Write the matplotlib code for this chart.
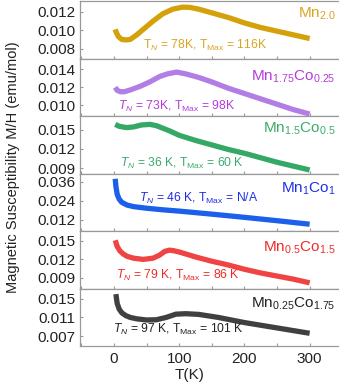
import numpy as np
import matplotlib.pyplot as plt
from matplotlib.ticker import MultipleLocator

plt.rcParams['font.family'] = ['Liberation Sans', 'DejaVu Sans']
plt.rcParams['mathtext.fontset'] = 'custom'
plt.rcParams['mathtext.rm'] = 'Liberation Sans'
plt.rcParams['mathtext.it'] = 'Liberation Sans:italic'

# --- данные ---
t_mn20 = [2, 4, 7, 12, 19, 25, 35, 45, 60, 75, 90, 105, 116, 130, 150, 175, 200, 225, 250, 275, 300]
chi_mn20 = [0.0101, 0.0097, 0.0093, 0.0090, 0.00895, 0.0090, 0.0095, 0.0101, 0.0110, 0.0118,
            0.0123, 0.01252, 0.0125, 0.0123, 0.0119, 0.0114, 0.0108, 0.0103, 0.0099, 0.0095, 0.0091]

t_mn175 = [2, 5, 10, 16, 25, 40, 55, 70, 82, 96, 110, 130, 150, 175, 200, 225, 250, 275, 300]
chi_mn175 = [0.0120, 0.01165, 0.0115, 0.0115, 0.0117, 0.0121, 0.0126, 0.0132, 0.0135, 0.0137,
             0.0135, 0.0131, 0.0126, 0.0119, 0.0113, 0.0107, 0.0101, 0.0095, 0.0090]

t_mn15 = [2, 8, 19, 30, 42, 55, 65, 75, 85, 100, 125, 150, 175, 200, 225, 250, 275, 300]
chi_mn15 = [0.0158, 0.0155, 0.0153, 0.0154, 0.0157, 0.0158, 0.0156, 0.0152, 0.0148, 0.0141,
            0.0133, 0.0126, 0.0119, 0.0113, 0.0106, 0.0099, 0.0093, 0.0087]

t_mn1 = [2, 3, 5, 8, 12, 20, 30, 50, 75, 100, 150, 200, 250, 300]
chi_mn1 = [0.0377, 0.0330, 0.0280, 0.0250, 0.0230, 0.0213, 0.0203, 0.0193, 0.0183, 0.0175,
           0.0156, 0.0136, 0.0115, 0.0093]

t_mn05 = [2, 5, 9, 14, 20, 30, 45, 60, 70, 78, 85, 92, 100, 125, 150, 175, 200, 225, 250, 275, 300]
chi_mn05 = [0.0151, 0.0141, 0.0134, 0.0129, 0.0125, 0.0122, 0.0120, 0.0122, 0.0127, 0.0133,
            0.0135, 0.0134, 0.0132, 0.0124, 0.0117, 0.0111, 0.0104, 0.0098, 0.0093, 0.0088, 0.0082]

t_mn025 = [3, 5, 8, 12, 18, 25, 35, 50, 65, 80, 95, 110, 130, 160, 200, 250, 300]
chi_mn025 = [0.0160, 0.0140, 0.0128, 0.0120, 0.0114, 0.0110, 0.0107, 0.01045, 0.0105, 0.0110,
             0.0117, 0.0118, 0.01165, 0.0110, 0.0099, 0.00875, 0.0076]

samples = [
    (t_mn20, chi_mn20, r'Mn$_{2.0}$', '#d4a10a', '#d8a520',
     r'T$_N$ = 78K, T$_{\mathrm{Max}}$ = 116K', (0.243, 0.22)),
    (t_mn175, chi_mn175, r'Mn$_{1.75}$Co$_{0.25}$', '#b27ee6', '#b43cd8',
     r'$\mathit{T}_N$ = 73K, T$_{\mathrm{Max}}$ = 98K', (0.147, 0.17)),
    (t_mn15, chi_mn15, r'Mn$_{1.5}$Co$_{0.5}$', '#35a866', '#3aab6a',
     r'$\mathit{T}_N$ = 36 K, T$_{\mathrm{Max}}$ = 60 K', (0.154, 0.17)),
    (t_mn1, chi_mn1, r'Mn$_1$Co$_1$', '#1c5fe8', '#1d2fe6',
     r'$\mathit{T}_N$ = 46 K, T$_{\mathrm{Max}}$ = N/A', (0.228, 0.56)),
    (t_mn05, chi_mn05, r'Mn$_{0.5}$Co$_{1.5}$', '#f04444', '#f02a2a',
     r'$\mathit{T}_N$ = 79 K, T$_{\mathrm{Max}}$ = 86 K', (0.139, 0.22)),
    (t_mn025, chi_mn025, r'Mn$_{0.25}$Co$_{1.75}$', '#404040', '#222222',
     r'$\mathit{T}_N$ = 97 K, T$_{\mathrm{Max}}$ = 101 K', (0.127, 0.28)),
]

ylims = [(0.00692, 0.01319), (0.00878, 0.01522), (0.00815, 0.0171),
         (0.00505, 0.041), (0.00728, 0.0166), (0.00487, 0.0172)]
yticks = [[0.008, 0.010, 0.012], [0.010, 0.012, 0.014], [0.009, 0.012, 0.015],
          [0.012, 0.024, 0.036], [0.009, 0.012, 0.015], [0.007, 0.011, 0.015]]

fig = plt.figure(figsize=(3.39, 3.89), dpi=100)
gs = fig.add_gridspec(6, 1, left=0.236, right=1.0, top=0.9974, bottom=0.1105, hspace=0)

spine_col = '#999999'
for i, (t, chi, name, lc, tc, note, pos) in enumerate(samples):
    ax = fig.add_subplot(gs[i])
    ax.plot(t, chi, color=lc, lw=3.8, solid_capstyle='butt', solid_joinstyle='round')
    ax.set_xlim(-52, 345)
    ax.set_ylim(*ylims[i])
    ax.set_yticks(yticks[i])
    ax.set_yticklabels(['%.3f' % v for v in yticks[i]])
    ax.xaxis.set_major_locator(MultipleLocator(100))
    ax.xaxis.set_minor_locator(MultipleLocator(50))
    ax.tick_params(axis='both', which='both', direction='in', color=spine_col,
                   length=2, width=0.8, labelsize=11, labelcolor='#222222')
    ax.tick_params(axis='y', pad=3)
    ax.tick_params(axis='x', pad=4)
    ax.spines['right'].set_visible(False)
    for s in ['left', 'top', 'bottom']:
        ax.spines[s].set_color(spine_col)
        ax.spines[s].set_linewidth(0.9)
    if i < 5:
        ax.tick_params(axis='x', labelbottom=False)
    ax.text(0.988, [0.78, 0.69, 0.77, 0.74, 0.71, 0.74][i], name, transform=ax.transAxes,
            ha='right', va='center', fontsize=11, color=tc)
    ax.text(pos[0], pos[1], note, transform=ax.transAxes, ha='left', va='center',
            fontsize=8.7, color=tc)

fig.text(0.038, 0.571, 'Magnetic Susceptibility M/H (emu/mol)', rotation=90,
         ha='center', va='center', fontsize=10.5, color='#222222')
fig.text(0.56, 0.036, 'T(K)', ha='center', va='center', fontsize=11, color='#222222')

fig.savefig('out.png', dpi=100)
